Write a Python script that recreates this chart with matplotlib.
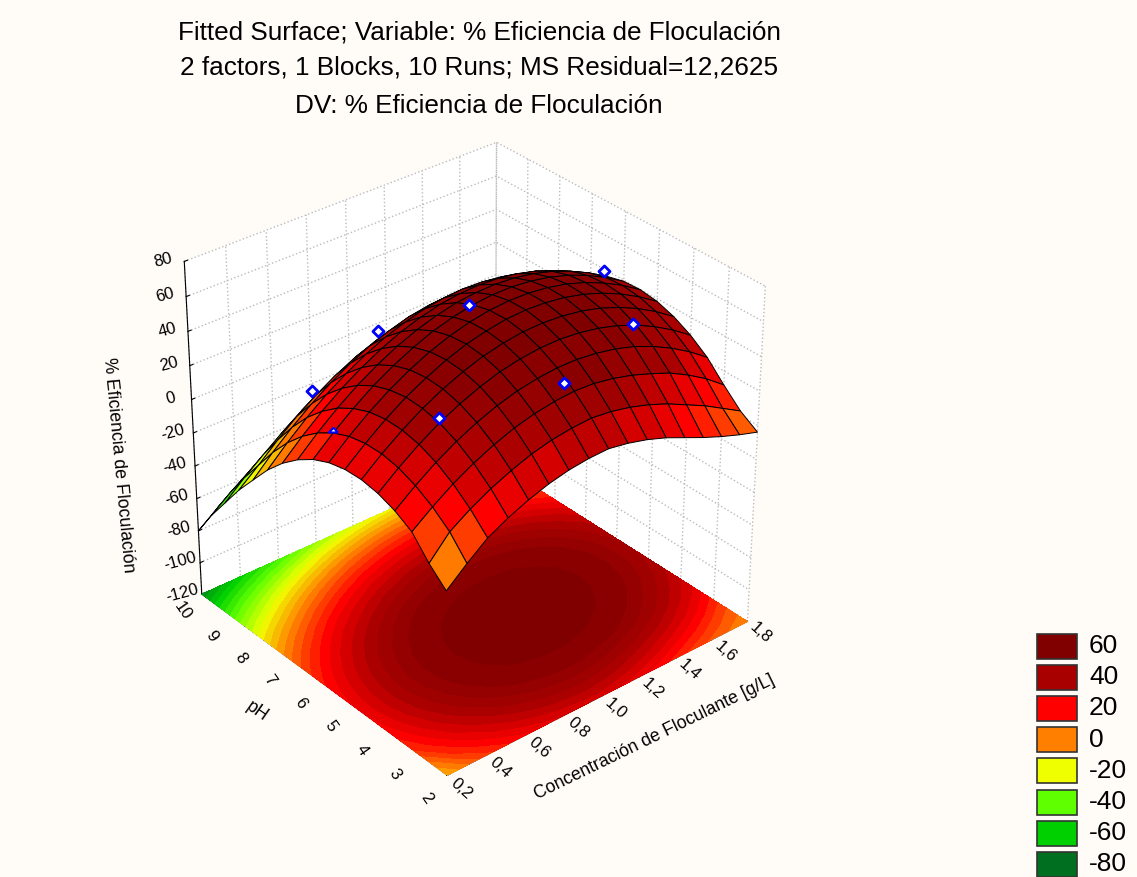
import matplotlib
matplotlib.use("Agg")
from matplotlib import pyplot as plt
from matplotlib.colors import LinearSegmentedColormap, BoundaryNorm
from matplotlib.markers import MarkerStyle
from matplotlib.patches import Rectangle
import numpy as np

plt.rcParams['font.family'] = ['Liberation Sans', 'DejaVu Sans']

conc_nodes = [0.2, 0.3, 0.4, 0.5, 0.6, 0.7, 0.8, 0.9, 1.0, 1.1, 1.2, 1.3, 1.4, 1.5, 1.6, 1.7, 1.8]
ph_nodes = [2.0, 2.5, 3.0, 3.5, 4.0, 4.5, 5.0, 5.5, 6.0, 6.5, 7.0, 7.5, 8.0, 8.5, 9.0, 9.5, 10.0]

# efficiency, one row per pH node
eficiencia = [
    [-11.0, -1.0, 8.0, 14.0, 18.8, 22.6, 25.2, 26.6, 27.0, 25.0, 22.0, 18.0, 13.0, 8.0, 3.5, -0.5, -4.0],
    [-2.0, 10.4, 17.9, 24.1, 29.1, 33.2, 36.0, 37.6, 38.3, 37.0, 34.5, 31.0, 26.5, 21.0, 15.5, 9.0, 2.5],
    [9.4, 18.1, 25.8, 32.2, 37.5, 41.8, 44.8, 46.7, 47.6, 47.0, 45.0, 42.0, 38.0, 33.5, 27.5, 20.5, 12.0],
    [14.9, 23.8, 31.7, 38.4, 43.9, 48.4, 51.7, 53.8, 54.9, 54.8, 53.5, 51.2, 47.8, 43.1, 37.3, 30.5, 22.4],
    [18.4, 27.6, 35.7, 42.7, 48.4, 53.1, 56.7, 59.0, 60.3, 60.5, 59.4, 57.3, 54.1, 49.7, 44.1, 37.5, 29.7],
    [20.0, 29.4, 37.7, 44.9, 50.9, 55.8, 59.6, 62.2, 63.8, 64.1, 63.3, 61.5, 58.5, 54.3, 49.0, 42.6, 35.0],
    [19.6, 29.2, 37.8, 45.3, 51.4, 56.6, 60.7, 63.4, 65.3, 65.9, 65.3, 63.7, 60.9, 57.0, 51.9, 45.7, 38.4],
    [17.3, 27.2, 36.0, 43.6, 50.1, 55.5, 59.7, 62.8, 64.8, 65.6, 65.3, 63.9, 61.4, 57.7, 52.8, 46.9, 39.8],
    [13.0, 23.1, 32.1, 40.1, 46.7, 52.3, 56.9, 60.1, 62.4, 63.5, 63.4, 62.2, 59.9, 56.5, 51.8, 46.1, 39.3],
    [6.7, 17.1, 26.4, 34.5, 41.4, 47.3, 52.0, 55.5, 58.1, 59.3, 59.5, 58.6, 56.5, 53.3, 48.9, 43.4, 36.8],
    [-1.5, 9.1, 18.6, 27.0, 34.1, 40.2, 45.2, 48.9, 51.7, 53.2, 53.6, 52.9, 51.1, 48.1, 43.9, 38.7, 32.3],
    [-11.6, -0.8, 9.0, 17.6, 24.9, 31.3, 36.5, 40.4, 43.5, 45.2, 45.9, 45.4, 43.8, 41.1, 37.1, 32.1, 26.0],
    [-23.7, -12.6, -2.7, 6.2, 13.8, 20.3, 25.8, 30.0, 33.3, 35.2, 36.1, 35.9, 34.5, 32.0, 28.3, 23.5, 17.6],
    [-36.0, -26.4, -16.3, -7.1, 0.7, 7.5, 13.2, 17.6, 21.1, 23.3, 24.4, 24.4, 23.3, 21.0, 17.5, 13.0, 7.3],
    [-50.0, -40.0, -31.0, -22.4, -14.4, -7.4, -1.4, 3.2, 7.0, 9.4, 10.7, 11.0, 10.1, 8.0, 4.8, 0.5, -5.0],
    [-64.0, -55.0, -47.0, -39.0, -31.4, -24.2, -18.0, -13.1, -9.1, -6.5, -4.9, -4.4, -5.0, -6.9, -9.9, -13.9, -19.2],
    [-80.0, -71.0, -63.0, -56.0, -50.0, -42.9, -36.5, -31.4, -27.2, -24.3, -22.4, -21.8, -22.1, -23.7, -26.6, -30.3, -35.3],
]

# observed runs
runs_conc = [0.5, 1.0, 0.98, 1.5, 1.8, 1.0, 0.73]
runs_ph = [4.0, 3.3, 6.0, 4.1, 6.6, 9.0, 9.5]
runs_ef = [45.5, 49.0, 63.5, 49.5, 39.0, 14.0, -15.0]
# this one sits mostly behind the surface
hidden_conc = [0.3]
hidden_ph = [6.0]
hidden_ef = [23.5]

legend_values = [60, 40, 20, 0, -20, -40, -60, -80]
legend_colors = ['#800000', '#A80000', '#FF0000', '#FF8000', '#F0FF00', '#60FF00', '#00D000', '#007020']
# heights where each legend colour is reached on the floor map
ramp_z = [-85, -62, -44, -24, -4, 16, 36, 55]

conc_ticks = [0.2, 0.4, 0.6, 0.8, 1.0, 1.2, 1.4, 1.6, 1.8]
conc_labels = ['0,2', '0,4', '0,6', '0,8', '1,0', '1,2', '1,4', '1,6', '1,8']
ph_ticks = [2, 3, 4, 5, 6, 7, 8, 9, 10]
z_ticks = [-120, -100, -80, -60, -40, -20, 0, 20, 40, 60, 80]

fondo = '#FFFCF8'
fig = plt.figure(figsize=(11.37, 8.77), dpi=100, facecolor=fondo)
ax = fig.add_axes([-0.0895, -0.022, 0.99, 1.0], projection='3d', computed_zorder=False)
ax.patch.set_alpha(0)

X, Y = np.meshgrid(conc_nodes, ph_nodes)
Z = np.array(eficiencia)

# bands every 5 units like the original
ramp_col = legend_colors[::-1]
cmap = LinearSegmentedColormap.from_list('statistica', [((v + 85) / 140, c) for v, c in zip(ramp_z, ramp_col)], N=256)
niveles = list(range(-85, 55, 5)) + [58]
norm = BoundaryNorm(niveles, 256, extend='both')

ax.contourf(X, Y, Z, levels=niveles, zdir='z', offset=-120, cmap=cmap, norm=norm, extend='both', zorder=1, antialiased=False)

celda = (Z[:-1, :-1] + Z[1:, :-1] + Z[:-1, 1:] + Z[1:, 1:]) / 4
ax.plot_surface(X, Y, Z, rstride=1, cstride=1, facecolors=cmap(norm(celda)), shade=False,
                edgecolor='black', linewidth=0.7, antialiased=True, zorder=3)

ax.scatter(runs_conc, runs_ph, runs_ef, marker='D', s=32, c='white', edgecolors='#0000FF', linewidths=2, depthshade=False, zorder=4)
ax.scatter(hidden_conc, hidden_ph, hidden_ef, marker=MarkerStyle('D', fillstyle='top'), s=22, c='white', edgecolors='#0000FF', linewidths=1.5, depthshade=False, zorder=4)

ax.set_xlim(0.2, 1.8, view_margin=0)
ax.set_ylim(2, 10, view_margin=0)
ax.set_zlim(-120, 80, view_margin=0)
ax.set_xticks(conc_ticks)
ax.set_xticklabels(conc_labels, rotation=-42, fontsize=12)
ax.set_yticks(ph_ticks)
ax.set_yticklabels([str(p) for p in ph_ticks], rotation=-55, fontsize=12)
ax.set_zticks(z_ticks)
ax.set_zticklabels([str(v) for v in z_ticks], rotation=15, fontsize=12)
for axis in (ax.xaxis, ax.yaxis):
    for t in axis.get_ticklabels():
        t.set(va='bottom', ha='center')
for t in ax.zaxis.get_ticklabels():
    t.set(va='center')

ax.view_init(elev=32, azim=-130)
ax.set_proj_type('persp', focal_length=0.7)
ax.set_box_aspect((1, 1, 0.985), zoom=0.762)

for axis in (ax.xaxis, ax.yaxis, ax.zaxis):
    axis.set_pane_color((1, 1, 1, 1))
    axis.pane.set_edgecolor((1, 1, 1, 0))
    axis._axinfo['grid'].update(color='#BBBBBB', linestyle=':', linewidth=1.0)
    axis._axinfo['tick'].update(inward_factor=0.0, outward_factor=0.12)
    axis._axinfo['axisline']['color'] = 'black'
ax.xaxis.set_tick_params(pad=9)
ax.yaxis.set_tick_params(pad=13)
ax.zaxis.set_tick_params(pad=4)

fig.text(654 / 1137, 1 - 737 / 877, 'Concentración de Floculante [g/L]', ha='center', va='center', rotation=26, fontsize=12.8)
fig.text(257 / 1137, 1 - 712 / 877, 'pH', ha='center', va='center', rotation=-35, fontsize=12.8)
fig.text(118 / 1137, 1 - 465 / 877, '% Eficiencia de Floculación', ha='center', va='center', rotation=-84.7, fontsize=12.8)

fig.text(0.4213, 0.9635, 'Fitted Surface; Variable: % Eficiencia de Floculación', ha='center', va='center', fontsize=18.8)
fig.text(0.4213, 0.9225, '2 factors, 1 Blocks, 10 Runs; MS Residual=12,2625', ha='center', va='center', fontsize=18.8)
fig.text(0.4213, 0.8795, 'DV: % Eficiencia de Floculación', ha='center', va='center', fontsize=18.8)

# legend swatches down the lower right corner
for k, (v, c) in enumerate(zip(legend_values, legend_colors)):
    y_px = 646 + 31.2 * k
    fig.add_artist(Rectangle((1037 / 1137, 1 - (y_px + 12.5) / 877), 40 / 1137, 25 / 877, transform=fig.transFigure,
                             facecolor=c, edgecolor='#333333', linewidth=1.2))
    fig.text(1089 / 1137, 1 - y_px / 877, str(v), ha='left', va='center', fontsize=19)

fig.savefig('out.png', dpi=100, facecolor=fondo)
